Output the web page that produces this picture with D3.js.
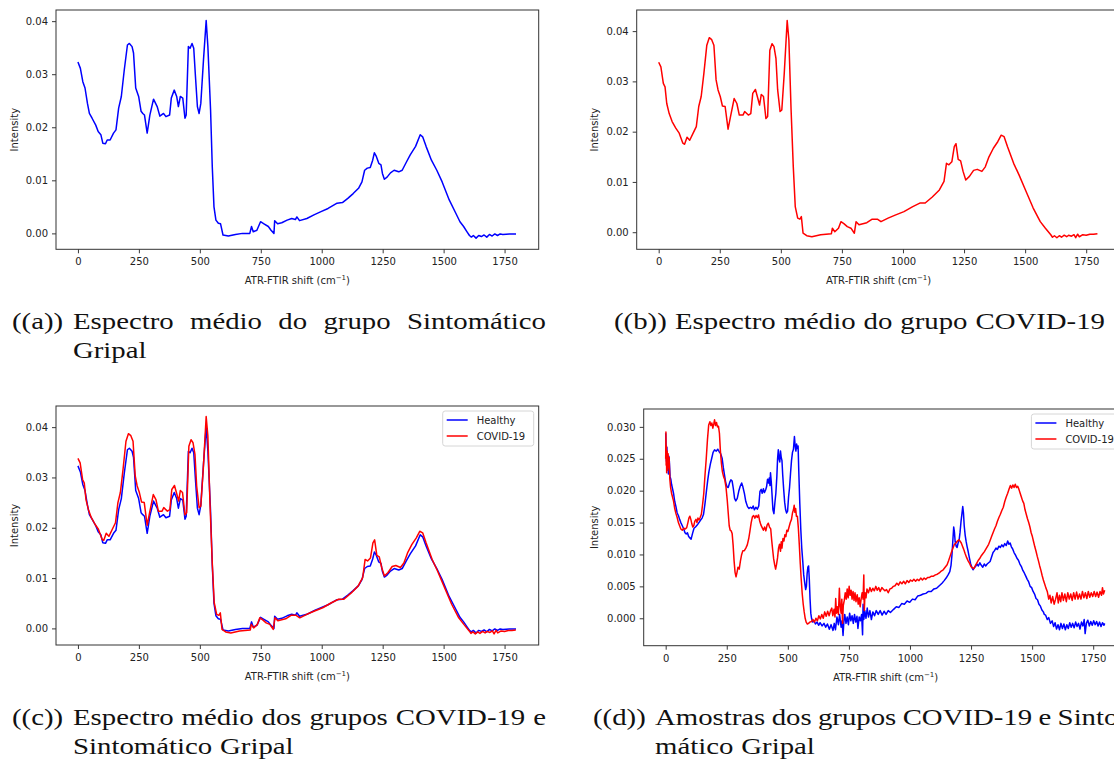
<!DOCTYPE html>
<html>
<head>
<meta charset="utf-8">
<script src="https://cdn.jsdelivr.net/npm/d3@7"></script>
<style>
  body { margin: 0; background: #fff; }
  svg { display: block; }
</style>
</head>
<body>
<svg id="fig" width="1114" height="763"></svg>
<script>
// x ticks (wavenumber) shared by all panels
var xTicks = [0, 250, 500, 750, 1000, 1250, 1500, 1750];
var yTicksMean = [0, 0.01, 0.02, 0.03, 0.04];
var yTicksSample = [0, 0.005, 0.010, 0.015, 0.020, 0.025, 0.030];
var seriesNames = ['Healthy', 'COVID-19'];

// mean spectrum, Sintomatico Gripal (healthy) group  [shift, intensity]
var healthyMean = [
  [0,0.0323],[10,0.0311],[20,0.0286],[29,0.0274],[39,0.0245],[47,0.0226],[58,0.0217],[73,0.0204],
  [83,0.0192],[94,0.0186],[102,0.0170],[113,0.0169],[120,0.0176],[132,0.0176],[146,0.0189],[156,0.0195],
  [167,0.0236],[178,0.0258],[190,0.0308],[203,0.0355],[211,0.0358],[222,0.0352],[228,0.0340],[237,0.0274],
  [249,0.0258],[259,0.0230],[266,0.0226],[273,0.0223],[284,0.0189],[295,0.0223],[310,0.0253],[325,0.0239],
  [336,0.0221],[351,0.0226],[361,0.0220],[376,0.0223],[383,0.0255],[395,0.0270],[405,0.0258],[412,0.0239],
  [420,0.0258],[430,0.0255],[439,0.0217],[444,0.0223],[453,0.0352],[460,0.0349],[468,0.0358],[475,0.0349],
  [482,0.0296],[490,0.0239],[497,0.0226],[504,0.0245],[515,0.0327],[526,0.0401],[533,0.0352],[544,0.0233],
  [551,0.0126],[558,0.0050],[566,0.0025],[576,0.0019],[585,0.0018],[595,-0.0003],[617,-0.0005],[646,-0.0002],
  [675,0.0000],[705,0.0000],[712,0.0013],[719,0.0003],[734,0.0006],[749,0.0022],[763,0.0018],[781,0.0013],
  [792,0.0006],[804,0.0000],[807,0.0024],[819,0.0018],[836,0.0020],[858,0.0025],[877,0.0028],[892,0.0026],
  [898,0.0031],[909,0.0024],[939,0.0028],[968,0.0035],[997,0.0041],[1026,0.0047],[1063,0.0057],[1085,0.0058],
  [1107,0.0066],[1129,0.0075],[1151,0.0085],[1165,0.0097],[1176,0.0119],[1187,0.0123],[1199,0.0124],[1209,0.0138],
  [1216,0.0152],[1224,0.0145],[1234,0.0132],[1243,0.0129],[1249,0.0113],[1257,0.0102],[1268,0.0106],[1282,0.0114],
  [1297,0.0119],[1316,0.0116],[1330,0.0119],[1348,0.0135],[1363,0.0148],[1385,0.0164],[1404,0.0186],[1414,0.0182],
  [1428,0.0164],[1450,0.0138],[1472,0.0119],[1494,0.0097],[1523,0.0063],[1550,0.0038],[1567,0.0022],[1582,0.0013],
  [1596,0.0003],[1606,-0.0004],[1614,-0.0007],[1622,-0.0004],[1633,-0.0009],[1644,-0.0004],[1655,-0.0006],
  [1666,-0.0003],[1677,-0.0007],[1688,-0.0002],[1699,-0.0005],[1710,-0.0001],[1721,-0.0004],[1732,-0.0001],
  [1743,-0.0002],[1770,-0.0001],[1797,-0.0001]
];

// mean spectrum, COVID-19 group
var covidMean = [
  [0,0.0338],[9,0.0329],[19,0.0296],[26,0.0289],[33,0.0256],[43,0.0236],[55,0.0220],[70,0.0207],
  [84,0.0197],[99,0.0177],[106,0.0175],[116,0.0189],[127,0.0183],[142,0.0198],[154,0.0210],[164,0.0250],
  [174,0.0270],[185,0.0316],[197,0.0372],[207,0.0387],[217,0.0383],[226,0.0372],[235,0.0303],[243,0.0283],
  [252,0.0270],[261,0.0251],[272,0.0250],[284,0.0205],[294,0.0230],[309,0.0266],[320,0.0256],[330,0.0233],
  [345,0.0233],[352,0.0240],[367,0.0233],[377,0.0236],[385,0.0276],[396,0.0284],[406,0.0266],[413,0.0253],
  [420,0.0274],[429,0.0270],[439,0.0226],[446,0.0230],[455,0.0362],[464,0.0375],[472,0.0369],[480,0.0346],
  [487,0.0283],[497,0.0240],[504,0.0243],[514,0.0316],[526,0.0421],[533,0.0382],[542,0.0243],[551,0.0130],
  [559,0.0051],[569,0.0028],[578,0.0026],[584,0.0031],[591,-0.0002],[606,-0.0007],[627,-0.0009],[663,-0.0005],
  [707,-0.0003],[711,0.0008],[721,0.0001],[736,0.0008],[746,0.0021],[758,0.0017],[772,0.0011],[787,0.0008],
  [801,-0.0002],[808,0.0021],[820,0.0015],[852,0.0019],[874,0.0026],[895,0.0026],[910,0.0021],[939,0.0028],
  [968,0.0034],[1004,0.0041],[1040,0.0051],[1069,0.0058],[1091,0.0058],[1120,0.0070],[1149,0.0084],[1168,0.0101],
  [1178,0.0137],[1188,0.0134],[1200,0.0140],[1210,0.0170],[1217,0.0176],[1226,0.0145],[1236,0.0142],[1246,0.0121],
  [1257,0.0104],[1272,0.0111],[1289,0.0123],[1304,0.0125],[1323,0.0121],[1337,0.0130],[1352,0.0150],[1370,0.0167],
  [1388,0.0180],[1402,0.0193],[1414,0.0190],[1428,0.0170],[1453,0.0137],[1475,0.0114],[1504,0.0081],[1533,0.0048],
  [1562,0.0021],[1583,0.0008],[1605,-0.0005],[1612,-0.0010],[1620,-0.0007],[1630,-0.0011],[1640,-0.0007],
  [1649,-0.0010],[1660,-0.0006],[1670,-0.0009],[1678,-0.0006],[1690,-0.0008],[1700,-0.0005],[1707,-0.0011],
  [1715,-0.0004],[1722,-0.0009],[1736,-0.0005],[1750,-0.0006],[1765,-0.0004],[1780,-0.0004],[1796,-0.0003]
];

// single samples of both groups (panel d)
var healthySample = [
  [0,0.0290],[2,0.0265],[3,0.0246],[5,0.0268],[7,0.0238],[9,0.0250],[11,0.0226],[13,0.0254],[15,0.0246],
  [18,0.0222],[21,0.0218],[24,0.0210],[28,0.0203],[32,0.0196],[37,0.0183],[42,0.0175],[47,0.0165],[52,0.0161],
  [57,0.0155],[62,0.0150],[68,0.0145],[74,0.0140],[79,0.0134],[84,0.0132],[89,0.0134],[94,0.0128],[99,0.0126],
  [104,0.0124],[110,0.0133],[116,0.0141],[122,0.0143],[129,0.0146],[136,0.0150],[143,0.0154],[149,0.0157],
  [155,0.0163],[161,0.0180],[167,0.0200],[172,0.0216],[177,0.0230],[183,0.0242],[188,0.0250],[194,0.0260],
  [200,0.0264],[207,0.0262],[213,0.0265],[219,0.0261],[225,0.0258],[231,0.0251],[236,0.0236],[241,0.0224],
  [246,0.0212],[251,0.0206],[256,0.0205],[262,0.0213],[267,0.0217],[272,0.0215],[277,0.0203],[282,0.0188],
  [287,0.0184],[293,0.0188],[299,0.0199],[305,0.0207],[311,0.0212],[316,0.0206],[322,0.0196],[328,0.0183],
  [335,0.0175],[341,0.0172],[347,0.0174],[353,0.0172],[358,0.0176],[363,0.0170],[369,0.0174],[375,0.0171],
  [381,0.0176],[386,0.0199],[391,0.0202],[395,0.0196],[400,0.0203],[404,0.0197],[409,0.0201],[413,0.0206],
  [417,0.0218],[421,0.0212],[424,0.0220],[427,0.0208],[429,0.0228],[432,0.0215],[435,0.0196],[439,0.0170],
  [443,0.0164],[447,0.0181],[451,0.0196],[455,0.0222],[458,0.0250],[461,0.0264],[464,0.0250],[467,0.0245],
  [470,0.0262],[473,0.0252],[476,0.0247],[479,0.0225],[483,0.0202],[487,0.0182],[491,0.0170],[495,0.0165],
  [499,0.0168],[503,0.0190],[507,0.0205],[511,0.0227],[515,0.0247],[519,0.0260],[523,0.0265],[527,0.0285],
  [530,0.0270],[533,0.0262],[536,0.0273],[539,0.0266],[542,0.0270],[545,0.0228],[549,0.0180],[553,0.0140],
  [557,0.0110],[561,0.0090],[565,0.0068],[569,0.0056],[573,0.0045],[576,0.0050],[579,0.0070],[582,0.0080],
  [585,0.0082],[588,0.0060],[591,0.0030],[594,0.0008],[597,0.0000],[602,-0.0006],[607,-0.0004],[613,-0.0009],
  [620,-0.0006],[626,-0.0011],[632,-0.0007],[640,-0.0012],[648,-0.0008],[655,-0.0014],[662,-0.0009],
  [670,-0.0017],[677,-0.0010],[685,-0.0019],[690,-0.0008],[695,-0.0018],[701,0.0002],[707,-0.0010],
  [712,0.0006],[718,-0.0014],[722,-0.0004],[726,-0.0027],[730,-0.0002],[733,0.0006],[738,-0.0008],
  [743,0.0002],[748,-0.0010],[753,0.0008],[758,-0.0004],[763,0.0004],[768,-0.0008],[773,0.0006],
  [778,-0.0006],[783,0.0003],[787,-0.0016],[792,0.0002],[797,-0.0004],[802,0.0006],[806,-0.0026],
  [808,0.0022],[811,-0.0002],[815,0.0012],[820,0.0000],[825,0.0016],[830,0.0002],[836,0.0012],[842,-0.0002],
  [848,0.0010],[855,0.0004],[862,0.0012],[870,0.0006],[878,0.0012],[886,0.0005],[894,0.0011],[902,0.0006],
  [911,0.0012],[920,0.0009],[933,0.0014],[944,0.0018],[955,0.0017],[966,0.0023],[977,0.0022],[988,0.0027],
  [999,0.0025],[1010,0.0030],[1021,0.0029],[1032,0.0035],[1043,0.0036],[1054,0.0038],[1065,0.0039],
  [1076,0.0042],[1087,0.0042],[1098,0.0046],[1109,0.0047],[1120,0.0051],[1131,0.0055],[1140,0.0059],
  [1148,0.0063],[1156,0.0068],[1163,0.0073],[1168,0.0083],[1172,0.0100],[1176,0.0125],[1179,0.0143],
  [1182,0.0135],[1185,0.0120],[1189,0.0113],[1193,0.0111],[1197,0.0118],[1201,0.0122],[1205,0.0135],
  [1209,0.0152],[1213,0.0165],[1216,0.0175],[1219,0.0165],[1222,0.0145],[1226,0.0130],[1230,0.0120],
  [1234,0.0112],[1238,0.0105],[1243,0.0095],[1248,0.0086],[1253,0.0080],[1258,0.0076],[1263,0.0079],
  [1268,0.0081],[1274,0.0085],[1280,0.0082],[1286,0.0087],[1292,0.0083],[1298,0.0080],[1304,0.0085],
  [1310,0.0082],[1316,0.0085],[1322,0.0087],[1328,0.0089],[1334,0.0096],[1340,0.0103],[1346,0.0106],
  [1352,0.0110],[1358,0.0108],[1364,0.0113],[1370,0.0111],[1376,0.0115],[1382,0.0112],[1388,0.0117],
  [1394,0.0114],[1400,0.0121],[1405,0.0116],[1410,0.0118],[1415,0.0112],[1420,0.0109],[1426,0.0103],
  [1432,0.0099],[1438,0.0094],[1444,0.0091],[1450,0.0085],[1456,0.0081],[1462,0.0075],[1468,0.0071],
  [1474,0.0066],[1480,0.0061],[1486,0.0057],[1492,0.0050],[1498,0.0048],[1504,0.0042],[1510,0.0038],
  [1516,0.0031],[1522,0.0029],[1528,0.0022],[1534,0.0019],[1540,0.0013],[1546,0.0010],[1550,0.0006],
  [1555,0.0005],[1562,-0.0002],[1568,0.0001],[1575,-0.0008],[1582,-0.0004],[1588,-0.0013],[1594,-0.0007],
  [1600,-0.0017],[1606,-0.0010],[1612,-0.0018],[1618,-0.0008],[1624,-0.0016],[1630,-0.0009],[1636,-0.0018],
  [1642,-0.0010],[1648,-0.0016],[1654,-0.0007],[1660,-0.0014],[1666,-0.0008],[1672,-0.0015],[1678,-0.0006],
  [1684,-0.0013],[1690,-0.0008],[1696,-0.0017],[1702,-0.0006],[1708,-0.0012],[1713,-0.0002],[1717,-0.0024],
  [1722,-0.0008],[1728,-0.0003],[1734,-0.0012],[1740,-0.0005],[1746,-0.0011],[1752,-0.0004],[1758,-0.0010],
  [1764,-0.0005],[1770,-0.0012],[1776,-0.0006],[1782,-0.0013],[1788,-0.0007],[1794,-0.0011],[1797,-0.0008]
];

var covidSample = [
  [0,0.0250],[1,0.0292],[2,0.0240],[3,0.0270],[4,0.0228],[6,0.0262],[8,0.0232],[10,0.0258],[12,0.0236],
  [14,0.0252],[17,0.0218],[20,0.0205],[24,0.0196],[28,0.0190],[32,0.0184],[37,0.0172],[42,0.0164],[47,0.0158],
  [52,0.0150],[57,0.0145],[62,0.0140],[68,0.0138],[74,0.0141],[80,0.0140],[86,0.0142],[91,0.0150],[95,0.0157],
  [99,0.0160],[103,0.0155],[107,0.0148],[111,0.0143],[115,0.0145],[119,0.0152],[124,0.0155],[128,0.0150],
  [132,0.0157],[136,0.0154],[141,0.0158],[146,0.0163],[151,0.0178],[156,0.0196],[161,0.0225],[166,0.0250],
  [171,0.0280],[176,0.0303],[181,0.0308],[185,0.0302],[189,0.0306],[193,0.0298],[197,0.0305],[200,0.0311],
  [204,0.0302],[208,0.0307],[212,0.0300],[216,0.0301],[220,0.0290],[224,0.0262],[228,0.0243],[232,0.0230],
  [237,0.0222],[242,0.0217],[247,0.0205],[252,0.0185],[256,0.0165],[260,0.0145],[264,0.0138],[268,0.0137],
  [272,0.0133],[276,0.0115],[280,0.0090],[284,0.0072],[288,0.0065],[292,0.0072],[296,0.0080],[301,0.0077],
  [306,0.0090],[311,0.0100],[316,0.0106],[322,0.0106],[328,0.0110],[334,0.0115],[340,0.0125],[345,0.0137],
  [350,0.0150],[355,0.0159],[360,0.0161],[365,0.0157],[370,0.0161],[375,0.0158],[380,0.0162],[385,0.0152],
  [390,0.0146],[395,0.0142],[400,0.0138],[405,0.0143],[410,0.0137],[415,0.0146],[420,0.0149],[425,0.0143],
  [430,0.0140],[434,0.0122],[438,0.0107],[442,0.0093],[446,0.0084],[450,0.0077],[454,0.0085],[458,0.0095],
  [462,0.0110],[466,0.0116],[470,0.0105],[473,0.0120],[476,0.0110],[480,0.0125],[484,0.0121],[488,0.0131],
  [492,0.0128],[496,0.0138],[500,0.0136],[505,0.0143],[510,0.0150],[515,0.0155],[519,0.0165],[523,0.0170],
  [526,0.0177],[529,0.0166],[532,0.0172],[535,0.0160],[539,0.0160],[543,0.0142],[547,0.0115],[551,0.0085],
  [555,0.0060],[559,0.0038],[563,0.0022],[567,0.0010],[571,0.0000],[575,-0.0006],[580,-0.0009],[585,-0.0008],
  [590,-0.0006],[597,-0.0005],[603,-0.0002],[609,-0.0006],[615,0.0000],[621,-0.0004],[627,0.0004],
  [633,-0.0001],[639,0.0006],[645,0.0000],[651,0.0010],[657,0.0003],[663,0.0011],[669,0.0004],[675,0.0012],
  [680,0.0016],[684,0.0004],[689,0.0014],[693,0.0002],[696,0.0031],[699,0.0008],[703,0.0018],[707,0.0006],
  [711,0.0047],[714,0.0020],[718,0.0008],[721,0.0030],[724,-0.0008],[727,0.0020],[731,0.0028],[735,0.0040],
  [739,0.0030],[743,0.0046],[747,0.0032],[751,0.0050],[755,0.0036],[759,0.0044],[763,0.0030],[767,0.0042],
  [771,0.0028],[775,0.0040],[779,0.0026],[784,0.0037],[788,0.0022],[792,0.0032],[796,0.0018],[800,0.0030],
  [804,0.0040],[808,0.0030],[811,0.0068],[813,0.0012],[816,0.0040],[820,0.0032],[824,0.0046],[830,0.0040],
  [836,0.0048],[842,0.0042],[848,0.0047],[854,0.0043],[860,0.0050],[866,0.0044],[872,0.0048],[878,0.0042],
  [885,0.0048],[890,0.0046],[897,0.0043],[904,0.0045],[911,0.0040],[918,0.0046],[925,0.0047],[932,0.0050],
  [939,0.0051],[946,0.0055],[953,0.0052],[960,0.0057],[967,0.0054],[974,0.0058],[981,0.0054],[988,0.0059],
  [995,0.0056],[1002,0.0060],[1009,0.0058],[1016,0.0061],[1023,0.0058],[1030,0.0061],[1037,0.0059],
  [1044,0.0063],[1051,0.0060],[1058,0.0063],[1065,0.0061],[1072,0.0064],[1080,0.0064],[1088,0.0066],
  [1096,0.0066],[1104,0.0068],[1112,0.0069],[1120,0.0071],[1128,0.0074],[1136,0.0076],[1144,0.0080],
  [1152,0.0084],[1158,0.0090],[1164,0.0097],[1170,0.0104],[1176,0.0110],[1182,0.0116],[1188,0.0118],
  [1194,0.0121],[1200,0.0123],[1205,0.0121],[1210,0.0118],[1215,0.0113],[1220,0.0108],[1226,0.0101],
  [1232,0.0095],[1238,0.0090],[1244,0.0086],[1250,0.0081],[1256,0.0079],[1262,0.0078],[1268,0.0083],
  [1274,0.0087],[1280,0.0091],[1286,0.0094],[1292,0.0098],[1298,0.0101],[1304,0.0104],[1310,0.0108],
  [1316,0.0112],[1322,0.0116],[1328,0.0122],[1334,0.0128],[1340,0.0134],[1346,0.0140],[1352,0.0145],
  [1358,0.0152],[1364,0.0158],[1370,0.0163],[1376,0.0169],[1382,0.0174],[1388,0.0183],[1394,0.0190],
  [1400,0.0196],[1406,0.0203],[1411,0.0208],[1416,0.0204],[1421,0.0209],[1426,0.0205],[1431,0.0210],
  [1436,0.0205],[1441,0.0207],[1446,0.0202],[1451,0.0196],[1456,0.0190],[1461,0.0184],[1466,0.0180],
  [1471,0.0170],[1476,0.0163],[1481,0.0156],[1486,0.0150],[1491,0.0143],[1496,0.0134],[1501,0.0128],
  [1506,0.0120],[1511,0.0112],[1516,0.0105],[1521,0.0097],[1526,0.0090],[1531,0.0082],[1536,0.0075],
  [1541,0.0067],[1546,0.0060],[1551,0.0054],[1556,0.0048],[1562,0.0042],[1568,0.0030],[1573,0.0036],
  [1578,0.0024],[1584,0.0034],[1590,0.0022],[1596,0.0030],[1602,0.0040],[1607,0.0024],[1612,0.0036],
  [1617,0.0026],[1622,0.0040],[1628,0.0028],[1634,0.0038],[1640,0.0026],[1646,0.0040],[1652,0.0030],
  [1658,0.0038],[1664,0.0028],[1670,0.0040],[1676,0.0030],[1682,0.0041],[1688,0.0030],[1694,0.0038],
  [1700,0.0030],[1706,0.0042],[1712,0.0032],[1718,0.0040],[1724,0.0031],[1730,0.0042],[1736,0.0033],
  [1742,0.0040],[1748,0.0034],[1754,0.0042],[1760,0.0034],[1766,0.0041],[1772,0.0033],[1778,0.0042],
  [1784,0.0036],[1788,0.0048],[1792,0.0038],[1797,0.0044]
];

var captions = [
  { label: '((a))', x: 12, textX: 73, y: 329, justifyTo: 546,
    lines: [['Espectro', 'médio', 'do', 'grupo', 'Sintomático'], ['Gripal']] },
  { label: '((b))', x: 614, textX: 675, y: 329, justifyTo: null,
    lines: [['Espectro', 'médio', 'do', 'grupo', 'COVID-19']] },
  { label: '((c))', x: 12, textX: 73, y: 725, justifyTo: 546,
    lines: [['Espectro', 'médio', 'dos', 'grupos', 'COVID-19', 'e'], ['Sintomático', 'Gripal']] },
  { label: '((d))', x: 593, textX: 655, y: 725, justifyTo: 1128,
    lines: [['Amostras', 'dos', 'grupos', 'COVID-19', 'e', 'Sinto-'], ['mático', 'Gripal']] }
];

var svg = d3.select('#fig');
var xLimits = [-90, 1890];

var panels = [
  { left: 56, right: 538.7, top: 10, bottom: 249.3, yLim: [-0.0030, 0.0421], yTicks: yTicksMean, fmt: '.2f',
    labelOff: 42, series: [{ data: healthyMean, color: '#0000ff' }], legend: false },
  { left: 636.7, right: 1120.4, top: 10, bottom: 249.3, yLim: [-0.0034, 0.0442], yTicks: yTicksMean, fmt: '.2f',
    labelOff: 42, series: [{ data: covidMean, color: '#ff0000' }], legend: false },
  { left: 56, right: 538.7, top: 406, bottom: 645, yLim: [-0.0033, 0.0442], yTicks: yTicksMean, fmt: '.2f',
    labelOff: 42, series: [{ data: healthyMean, color: '#0000ff' }, { data: covidMean, color: '#ff0000' }], legend: true },
  { left: 643.7, right: 1127.4, top: 409, bottom: 645.7, yLim: [-0.0043, 0.0328], yTicks: yTicksSample, fmt: '.3f',
    labelOff: 49, series: [{ data: healthySample, color: '#0000ff' }, { data: covidSample, color: '#ff0000' }], legend: true }
];

panels.forEach(function(p, i) {
  var g = svg.append('g');
  var x = d3.scaleLinear().domain(xLimits).range([p.left, p.right]);
  var y = d3.scaleLinear().domain(p.yLim).range([p.bottom, p.top]);

  g.append('clipPath').attr('id', 'clip' + i)
    .append('rect')
    .attr('x', p.left).attr('y', p.top)
    .attr('width', p.right - p.left).attr('height', p.bottom - p.top);

  var line = d3.line()
    .x(function(d) { return x(d[0]); })
    .y(function(d) { return y(d[1]); });

  p.series.forEach(function(s) {
    g.append('path')
      .datum(s.data)
      .attr('clip-path', 'url(#clip' + i + ')')
      .attr('fill', 'none')
      .attr('stroke', s.color)
      .attr('stroke-width', 1.5)
      .attr('stroke-linejoin', 'round')
      .attr('d', line);
  });

  var xAxis = g.append('g')
    .attr('transform', 'translate(0,' + p.bottom + ')')
    .call(d3.axisBottom(x).tickValues(xTicks).tickSize(4).tickPadding(5).tickFormat(d3.format('d')));
  var yAxis = g.append('g')
    .attr('transform', 'translate(' + p.left + ',0)')
    .call(d3.axisLeft(y).tickValues(p.yTicks).tickSize(4).tickPadding(4).tickFormat(d3.format(p.fmt)));
  [xAxis, yAxis].forEach(function(ax) {
    ax.select('.domain').remove();
    ax.selectAll('line').attr('stroke', '#222').attr('stroke-width', 0.9);
    ax.selectAll('text')
      .attr('fill', '#222')
      .style('font-family', 'DejaVu Sans')
      .style('font-size', '10px');
  });

  g.append('rect')
    .attr('x', p.left).attr('y', p.top)
    .attr('width', p.right - p.left).attr('height', p.bottom - p.top)
    .attr('fill', 'none').attr('stroke', '#333').attr('stroke-width', 1);

  g.append('text')
    .attr('transform', 'translate(' + (p.left - p.labelOff) + ',' + ((p.top + p.bottom) / 2) + ') rotate(-90)')
    .attr('text-anchor', 'middle')
    .attr('dy', '0.35em')
    .style('font-family', 'DejaVu Sans').style('font-size', '10px')
    .attr('fill', '#222')
    .text('Intensity');

  var xl = g.append('text')
    .attr('x', (p.left + p.right) / 2)
    .attr('y', p.bottom + 35)
    .attr('text-anchor', 'middle')
    .style('font-family', 'DejaVu Sans').style('font-size', '10px')
    .attr('fill', '#222');
  xl.append('tspan').text('ATR-FTIR shift (cm');
  xl.append('tspan').attr('dy', -4).style('font-size', '7px').text('\u22121');
  xl.append('tspan').attr('dy', 4).text(')');

  if (p.legend) {
    var bw = 91, bh = 35;
    var bx = p.right - 5 - bw, by = p.top + 5;
    var lg = g.append('g');
    lg.append('rect')
      .attr('x', bx).attr('y', by).attr('width', bw).attr('height', bh)
      .attr('rx', 2.5)
      .attr('fill', 'white').attr('fill-opacity', 0.8)
      .attr('stroke', '#d6d6d6').attr('stroke-width', 1);
    seriesNames.forEach(function(name, k) {
      var cy = by + 9 + k * 16;
      lg.append('line')
        .attr('x1', bx + 4).attr('x2', bx + 25)
        .attr('y1', cy).attr('y2', cy)
        .attr('stroke', p.series[k].color).attr('stroke-width', 1.5);
      lg.append('text')
        .attr('x', bx + 34).attr('y', cy).attr('dy', '0.35em')
        .style('font-family', 'DejaVu Sans').style('font-size', '10px')
        .attr('fill', '#222')
        .text(name);
    });
  }
});

// captions, serif, stretched a little to the width of the LaTeX original
var capFont = 24;
var spaceW = capFont * 0.333;
var capG = svg.append('g')
  .style('font-family', '"Liberation Serif", "DejaVu Serif", serif')
  .style('font-size', capFont + 'px')
  .attr('fill', '#111');

function measure(word) {
  var t = capG.append('text').text(word);
  var w = t.node().getComputedTextLength();
  t.remove();
  return w;
}

// stretch factor: caption (b) text runs from 675 to 1105
var refWords = captions[1].lines[0];
var refW = d3.sum(refWords, measure);
var stretch = (1105 - 675 - spaceW * (refWords.length - 1)) / refW;

function putWord(word, xPos, yPos) {
  var w = measure(word) * stretch;
  capG.append('text')
    .attr('x', xPos).attr('y', yPos)
    .attr('textLength', w)
    .attr('lengthAdjust', 'spacingAndGlyphs')
    .text(word);
  return w;
}

captions.forEach(function(c) {
  putWord(c.label, c.x, c.y);
  c.lines.forEach(function(words, li) {
    var yPos = c.y + li * 29;
    var widths = words.map(function(w) { return measure(w) * stretch; });
    var gap = spaceW;
    var last = li === c.lines.length - 1;
    if (c.justifyTo && !last && words.length > 1) {
      gap = (c.justifyTo - c.textX - d3.sum(widths)) / (words.length - 1);
    }
    var xPos = c.textX;
    words.forEach(function(w, k) {
      putWord(w, xPos, yPos);
      xPos += widths[k] + gap;
    });
  });
});
</script>
</body>
</html>
